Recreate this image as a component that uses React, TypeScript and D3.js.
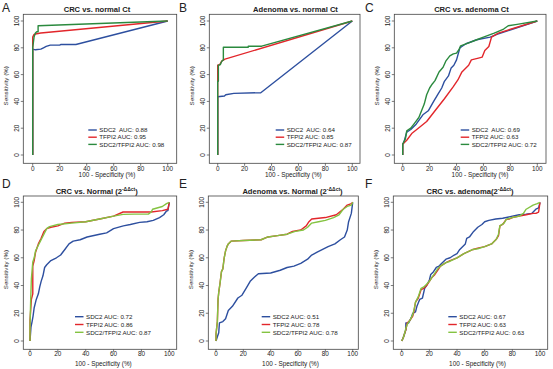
import { useEffect, useRef } from 'react'
import * as d3 from 'd3'

const W = 553
const H = 369

const ticks = [0, 20, 40, 60, 80, 100]
const seriesNames = ['SDC2', 'TFPI2', 'SDC2/TFPI2']

// A: CRC vs. normal Ct
const aSdc2 = [[0, 0], [0, 79], [2, 78.5], [6, 79], [8, 80], [10, 81], [13, 82], [20, 82], [21, 82.5], [32, 82.5], [100, 100]]
const aTfpi2 = [[0, 0], [0, 80], [0, 88], [1, 90], [3, 90.5], [6, 91], [100, 100]]
const aBoth = [[0, 0], [0, 80], [1, 88], [2, 91], [3, 92], [4, 92], [4, 96.5], [100, 100]]
const aucA = [0.88, 0.95, 0.98]

// B: Adenoma vs. normal Ct
const bSdc2 = [[0, 0], [0, 43.5], [5, 44], [6, 45], [12, 46], [32, 46.5], [100, 100]]
const bTfpi2 = [[0, 0], [0, 56], [0, 67], [1.5, 67.5], [3, 70], [5.4, 71.5], [100, 100]]
const bBoth = [[0, 0], [0, 55], [0.5, 55], [0.5, 67], [2, 67.5], [3, 70], [4.2, 71], [4.2, 80.4], [22.7, 80.4], [22.7, 81.2], [32.7, 81.2], [100, 100]]
const aucB = [0.64, 0.85, 0.87]

// C: CRC vs. adenoma Ct
const cSdc2 = [[0, 0], [0, 8], [1, 10], [3, 17], [6, 19], [10, 23], [15, 30], [19, 33], [23, 40], [26, 45], [29, 50], [31, 55], [34, 59], [36, 65], [38, 67], [40, 71], [42.5, 80], [44, 81], [47, 83], [55, 86], [65, 88], [70, 90], [100, 100]]
const cTfpi2 = [[0, 0], [0, 8], [3, 11], [6.7, 16], [11.6, 20], [17.8, 25], [24, 33], [31, 42], [37.6, 51], [41, 56], [44, 62], [49, 67], [51, 71], [57, 72.5], [59, 73], [61, 78], [64, 81], [66, 88], [71, 91], [100, 100]]
const cBoth = [[0, 0], [0, 8], [2, 12], [3, 18], [6, 20], [9, 24], [12, 28], [14, 33], [16, 38], [17.8, 45], [20, 50], [22, 53], [24, 55.5], [27, 62], [30, 65.5], [32, 70], [35, 74], [37.6, 75.5], [40, 76], [42, 79], [43, 81.5], [50, 84], [55, 86], [60, 88], [68, 91], [75, 94], [78.4, 96.5], [85, 97.5], [100, 100]]
const aucC = [0.69, 0.63, 0.72]

// D: CRC vs. Normal (2^-ddct)
const dSdc2 = [[0, 0], [0.7, 10], [1.5, 14], [2.2, 18], [3, 24], [4.5, 30], [6, 34], [7, 39], [8, 43], [9.3, 47], [10.5, 53], [12, 55], [15, 58], [19, 60], [22, 62], [25, 66], [28, 70], [31, 72], [36, 73], [41, 75], [50, 77], [55, 78], [60, 81], [67, 83], [72, 84], [78.7, 85.5], [84, 86], [88.5, 87], [93, 89], [96, 91], [98, 93.7], [99, 94], [100, 100]]
const dTfpi2 = [[0, 0], [0, 15], [1, 30], [2, 34], [2, 54], [3, 58], [4, 64], [5, 67], [6, 70], [8, 74], [10, 79], [12, 81], [15, 82], [20, 83], [25, 85], [30, 85.5], [40, 86], [50, 88], [60, 90], [66.8, 93], [75, 93], [87, 93], [95, 94], [99, 95], [100, 100]]
const dBoth = [[0, 0], [0, 10], [0.5, 30], [1, 45], [2, 57], [3, 60], [4, 65], [6, 69], [8, 73], [10, 77], [12, 81], [14, 82.5], [20, 84], [30, 85], [40, 86], [50, 88], [60, 90], [66.8, 91.3], [75, 91.5], [85, 91.5], [87, 93], [88, 95], [95, 97], [98, 99], [100, 100]]
const aucD = [0.72, 0.86, 0.87]

// E: Adenoma vs. Normal (2^-ddct)
const eSdc2 = [[0, 0], [1, 3], [2, 6], [2.5, 13], [5, 14], [7, 16], [9, 22], [12, 25], [16, 31], [19, 33], [22, 38], [25, 43], [28, 46], [31, 48.5], [40, 49], [47, 51], [52, 53], [57, 54], [62, 56], [67, 59], [70, 62], [74, 64], [78, 66], [82, 68], [87, 70], [91, 73], [94, 75], [96, 80], [97, 86], [99, 92], [100, 100]]
const eTfpi2 = [[0, 0], [0, 5], [1, 14], [1.5, 30], [2, 35], [3, 42], [4, 50], [5, 52], [6, 60], [7, 65], [8, 68], [9, 70], [11, 72], [20, 72.5], [33, 73], [38, 75], [45, 76], [52, 77], [56, 79], [62, 80], [66, 83], [68, 86], [70, 88], [80, 89], [88, 91], [93, 95], [96, 98], [99, 99], [100, 100]]
const eBoth = [[0, 0], [0, 5], [1, 14], [1.5, 30], [2, 35], [3, 42], [4, 50], [5, 52], [6, 60], [7, 65], [8, 68], [9, 70], [11, 72], [20, 72.5], [33, 73], [38, 75], [45, 76], [52, 77], [58, 79], [64, 80], [67, 82], [70, 85], [75, 86], [80, 87], [86, 89], [90, 91], [93, 95], [96, 97], [99, 98], [100, 100]]
const aucE = [0.51, 0.78, 0.78]

// F: CRC vs. adenoma (2^-ddct)
const fSdc2 = [[0, 0], [1, 2], [2, 5], [3, 8], [3, 13], [5, 13], [7, 17], [8, 20], [10, 21], [11, 25], [13, 30], [15, 31], [16.6, 38], [18, 40], [20, 44], [21, 48], [23, 50], [25, 53], [27, 54], [29, 56], [32, 59], [35, 60], [38, 62], [40, 63], [42, 66], [44, 68], [46, 70], [47, 74], [49, 75], [52, 79], [55, 82], [58, 84], [60, 86], [63, 87], [68, 88], [73, 88.5], [80, 90], [85, 91], [90, 91.5], [94, 92], [97, 95], [99, 96], [100, 100]]
const fTfpi2 = [[0, 0], [1, 2], [2, 5], [3, 8], [4, 13], [6, 15], [8, 18], [9, 22], [10, 28], [12, 31], [14, 37], [16, 38], [18, 40], [20, 43], [22, 46], [24, 48], [26, 51], [28, 54], [32, 56.5], [35, 58], [40, 60], [45, 63], [51.6, 66], [55, 67], [60, 68], [65, 70], [68.4, 73.3], [70, 76], [71, 83], [73, 84], [75.6, 87.7], [78, 88], [80, 89], [85, 90], [90, 91], [95, 92], [97, 92], [99, 93], [100, 100]]
const fBoth = [[0, 0], [1, 2], [2, 5], [3, 9], [4, 12], [6, 15], [8, 19], [9, 23], [10, 28], [12, 32], [14, 38], [16, 39], [18, 41], [20, 43], [22, 46], [24, 49], [26, 52], [28, 54], [32, 56.5], [35, 57.5], [40, 60], [45, 63], [51.6, 66], [55, 66.5], [60, 68], [65, 70], [68.4, 73.3], [70, 77], [71, 83], [74, 85], [75.6, 87.7], [78, 88.5], [80, 89], [85, 90], [88, 92], [90, 95], [95, 98], [98, 99], [100, 100]]
const aucF = [0.67, 0.63, 0.63]

const blue = '#2d4f9f'
const red = '#e2262b'
const darkGreen = '#2b8a3e'
const limeGreen = '#84c341'

const row1 = { y0: 155, y100: 21, top: 14.3, bottom: 163.3, titleY: 12.2, letterY: 11.5, tickY: 170.6, labelY: 176.6, legY: 130, legDy: 7.2 }
const row2 = { y0: 341, y100: 202.3, top: 196, bottom: 349.3, titleY: 193.5, letterY: 188, tickY: 356.3, labelY: 365.6, legY: 316.7, legDy: 7.8 }

const panels = [
  { letter: 'A', title: 'CRC vs. normal Ct', sup: '', tail: '', series: [aSdc2, aTfpi2, aBoth], auc: aucA, green: darkGreen, sep: '  ', row: row1, x0: 32.7, x100: 167.7, left: 23.3, right: 176.7, titleX: 97, letterX: 2, legX: 88.3, xLabX: 107 },
  { letter: 'B', title: 'Adenoma vs. normal Ct', sup: '', tail: '', series: [bSdc2, bTfpi2, bBoth], auc: aucB, green: darkGreen, sep: '  ', row: row1, x0: 217.7, x100: 352.3, left: 209.3, right: 360, titleX: 295.5, letterX: 179, legX: 275.7, xLabX: 293.3 },
  { letter: 'C', title: 'CRC vs. adenoma Ct', sup: '', tail: '', series: [cSdc2, cTfpi2, cBoth], auc: aucC, green: darkGreen, sep: '  ', row: row1, x0: 402.7, x100: 537.3, left: 394.3, right: 546, titleX: 471.5, letterX: 365, legX: 460.7, xLabX: 480 },
  { letter: 'D', title: 'CRC vs. Normal (2', sup: '-ΔΔct', tail: ')', series: [dSdc2, dTfpi2, dBoth], auc: aucD, green: limeGreen, sep: ' ', row: row2, x0: 30, x100: 169.3, left: 23.3, right: 176.7, titleX: 96.7, letterX: 2, legX: 75, xLabX: 103.3 },
  { letter: 'E', title: 'Adenoma vs. Normal (2', sup: '-ΔΔct', tail: ')', series: [eSdc2, eTfpi2, eBoth], auc: aucE, green: limeGreen, sep: ' ', row: row2, x0: 216, x100: 352.7, left: 208.3, right: 358.3, titleX: 292.5, letterX: 179, legX: 261.7, xLabX: 290.5 },
  { letter: 'F', title: 'CRC vs. adenoma(2', sup: '-ΔΔct', tail: ')', series: [fSdc2, fTfpi2, fBoth], auc: aucF, green: limeGreen, sep: ' ', row: row2, x0: 401.7, x100: 540, left: 393.3, right: 547.7, titleX: 470, letterX: 365, legX: 448.3, xLabX: 477.5 },
]

const font = 'Liberation Sans, Arial, sans-serif'

const App = () => {
  const d3svg = useRef(null)

  useEffect(() => {
    if (!d3svg.current) return
    const svg = d3.select(d3svg.current)
    svg.selectAll('*').remove()

    panels.forEach(p => {
      const r = p.row
      const g = svg.append('g').attr('font-family', font).attr('fill', '#222')
      const colors = [blue, red, p.green]

      const xScale = d3.scaleLinear().domain([0, 100]).range([p.x0, p.x100])
      const yScale = d3.scaleLinear().domain([0, 100]).range([r.y0, r.y100])

      // panel letter
      g.append('text')
        .attr('x', p.letterX)
        .attr('y', r.letterY)
        .attr('font-size', 12)
        .text(p.letter)

      // title
      const t = g.append('text')
        .attr('x', p.titleX)
        .attr('y', r.titleY)
        .attr('text-anchor', 'middle')
        .attr('font-size', 7.6)
        .attr('font-weight', 'bold')
      t.append('tspan').text(p.title)
      if (p.sup) {
        t.append('tspan').attr('dy', -3).attr('font-size', 5).text(p.sup)
        t.append('tspan').attr('dy', 3).text(p.tail)
      }

      // box
      g.append('rect')
        .attr('x', p.left)
        .attr('y', r.top)
        .attr('width', p.right - p.left)
        .attr('height', r.bottom - r.top)
        .attr('fill', 'none')
        .attr('stroke', '#444')
        .attr('stroke-width', 0.8)

      // x ticks
      g.selectAll('.xt')
        .data(ticks)
        .enter()
        .append('line')
        .attr('x1', d => xScale(d))
        .attr('x2', d => xScale(d))
        .attr('y1', r.bottom)
        .attr('y2', r.bottom + 2.5)
        .attr('stroke', '#444')
        .attr('stroke-width', 0.7)
      g.selectAll('.xl')
        .data(ticks)
        .enter()
        .append('text')
        .attr('x', d => xScale(d))
        .attr('y', r.tickY)
        .attr('text-anchor', 'middle')
        .attr('font-size', 6.4)
        .text(d => d)

      // y ticks
      g.selectAll('.yt')
        .data(ticks)
        .enter()
        .append('line')
        .attr('x1', p.left)
        .attr('x2', p.left - 2.5)
        .attr('y1', d => yScale(d))
        .attr('y2', d => yScale(d))
        .attr('stroke', '#444')
        .attr('stroke-width', 0.7)
      g.selectAll('.yl')
        .data(ticks)
        .enter()
        .append('text')
        .attr('transform', d => `translate(${p.left - 4.5},${yScale(d)}) rotate(-90)`)
        .attr('text-anchor', 'middle')
        .attr('font-size', 6.4)
        .text(d => d)

      // axis titles
      g.append('text')
        .attr('x', p.xLabX)
        .attr('y', r.labelY)
        .attr('text-anchor', 'middle')
        .attr('font-size', 6.4)
        .text('100 - Specificity (%)')
      g.append('text')
        .attr('transform', `translate(${p.left - 15.5},${(r.top + r.bottom) / 2 - 3}) rotate(-90)`)
        .attr('text-anchor', 'middle')
        .attr('font-size', 6.2)
        .text('Sensitivity (%)')

      // ROC curves
      const line = d3.line<number[]>()
        .x(d => xScale(d[0]))
        .y(d => yScale(d[1]))
      p.series.forEach((s, i) => {
        g.append('path')
          .attr('d', line(s))
          .attr('fill', 'none')
          .attr('stroke', colors[i])
          .attr('stroke-width', 1.4)
          .attr('stroke-linejoin', 'round')
      })

      // legend
      seriesNames.forEach((name, i) => {
        const y = r.legY + i * r.legDy
        g.append('line')
          .attr('x1', p.legX)
          .attr('x2', p.legX + 8.5)
          .attr('y1', y)
          .attr('y2', y)
          .attr('stroke', colors[i])
          .attr('stroke-width', 1.4)
        g.append('text')
          .attr('x', p.legX + 11)
          .attr('y', y + 2.2)
          .attr('font-size', 6.2)
          .style('white-space', 'pre')
          .text(`${name}${i === 0 ? p.sep : ' '}AUC: ${p.auc[i].toFixed(2)}`)
      })
    })
  }, [])

  return (
    <svg
      width={W}
      height={H}
      ref={d3svg}
      style={{ position: 'absolute', left: 0, top: 0, background: '#fff' }}
    ></svg>
  )
}

export default App
